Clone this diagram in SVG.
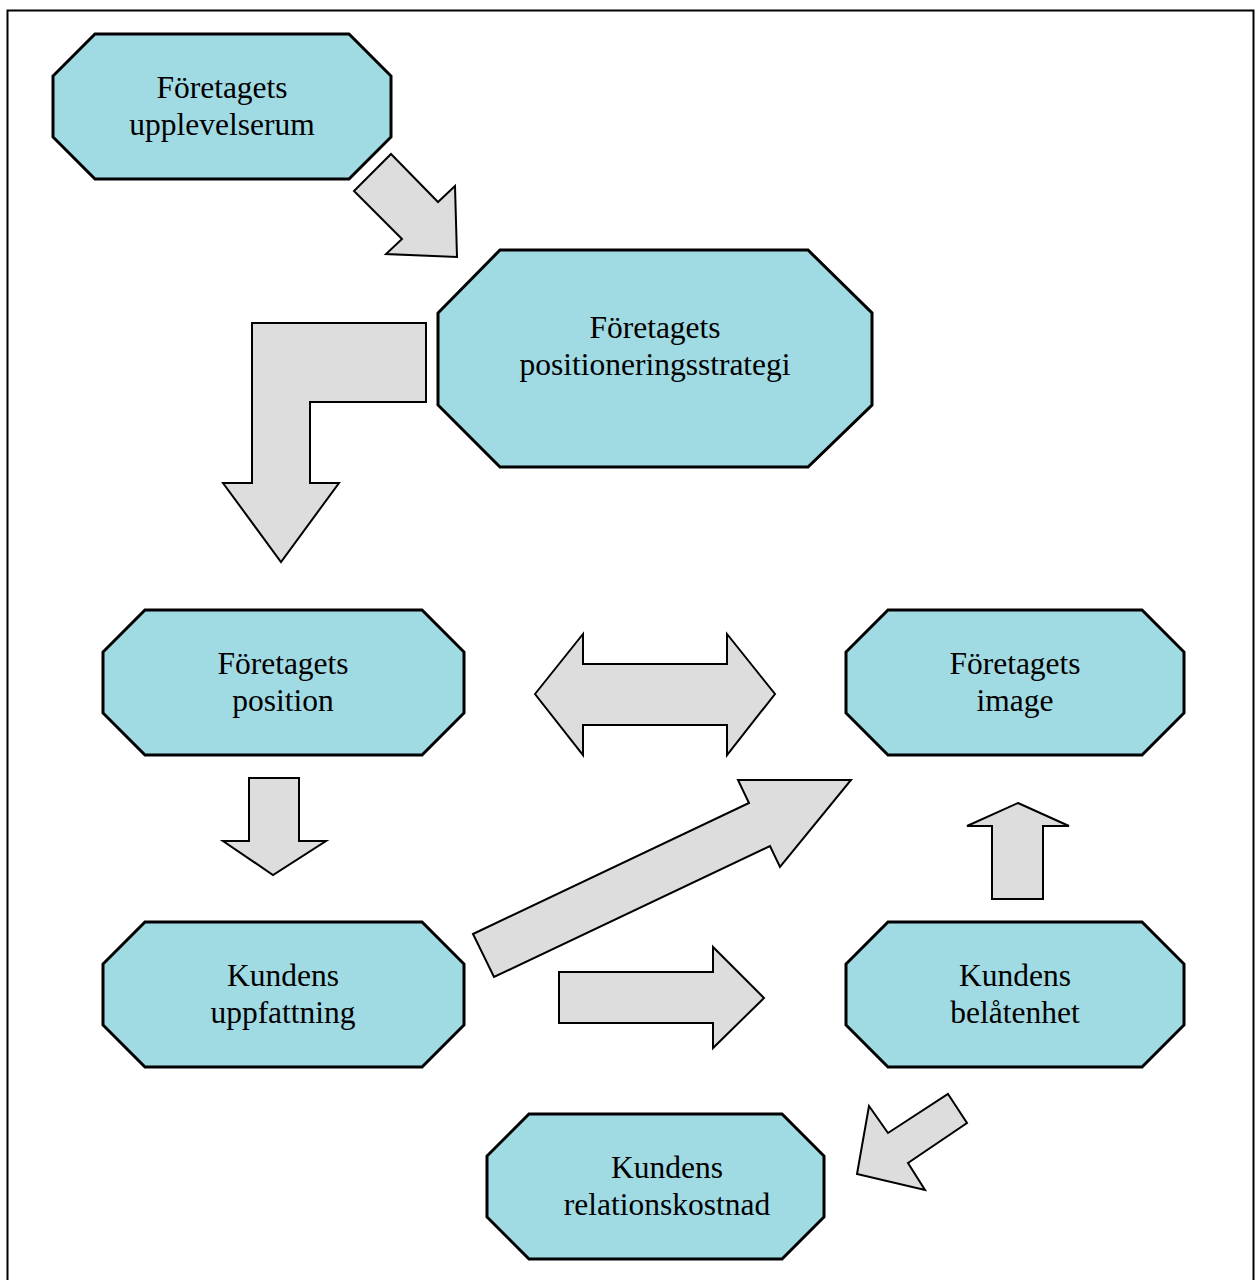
<svg xmlns="http://www.w3.org/2000/svg" width="1256" height="1280" viewBox="0 0 1256 1280">
<style>
.node{fill:#A0DAE3;stroke:#000;stroke-width:3;stroke-linejoin:miter}
.arr{fill:#DDDDDD;stroke:#000;stroke-width:2;stroke-linejoin:miter}
.t{font-family:"Liberation Serif","Times New Roman",serif;font-size:31.5px;fill:#000;text-anchor:middle}
</style>
<rect x="0" y="0" width="1256" height="1280" fill="#fff"/>
<rect x="7.5" y="10.5" width="1246" height="1290" fill="none" stroke="#000" stroke-width="2"/>
<g id="connectors">
<polygon class="arr" points="391,154 438,202 455,186 457,257 386,254 402,239 354,191"/>
<polygon class="arr" points="252,323 426,323 426,402 310,402 310,483 339,483 281,562 223,483 252,483"/>
<polygon class="arr" points="535,694 583,634 583,664 727,664 727,634 775,694 727,755 727,725 583,725 583,755"/>
<polygon class="arr" points="473,934 749,803 738,780 851,780 780,867 770,846 494,977"/>
<polygon class="arr" points="1018,803 1069,826 1043,826 1043,899 992,899 992,826 967,826"/>
<polygon class="arr" points="948,1094 967,1123 908,1163 925,1190 857,1174 869,1106 888,1133"/>
<polygon class="arr" points="249,778 299,778 299,841 326,841 273,875 223,841 249,841"/>
<polygon class="arr" points="559,972 713,972 713,947 764,998 713,1048 713,1023 559,1023"/>
</g>
<g id="n1">
<polygon class="node" points="95,34 349,34 391,76 391,137 349,179 95,179 53,137 53,76"/>
<text class="t" x="222" y="98">Företagets</text>
<text class="t" x="222" y="135">upplevelserum</text>
</g>
<g id="n2">
<polygon class="node" points="500,250 808,250 872,313 872,405 808,467 500,467 438,405 438,313"/>
<text class="t" x="655" y="338">Företagets</text>
<text class="t" x="655" y="375">positioneringsstrategi</text>
</g>
<g id="n3">
<polygon class="node" points="145,610 422,610 464,652 464,713 422,755 145,755 103,713 103,652"/>
<text class="t" x="283" y="674">Företagets</text>
<text class="t" x="283" y="711">position</text>
</g>
<g id="n4">
<polygon class="node" points="888,610 1142,610 1184,652 1184,713 1142,755 888,755 846,713 846,652"/>
<text class="t" x="1015" y="674">Företagets</text>
<text class="t" x="1015" y="711">image</text>
</g>
<g id="n5">
<polygon class="node" points="145,922 422,922 464,964 464,1025 422,1067 145,1067 103,1025 103,964"/>
<text class="t" x="283" y="986">Kundens</text>
<text class="t" x="283" y="1023">uppfattning</text>
</g>
<g id="n6">
<polygon class="node" points="888,922 1142,922 1184,964 1184,1025 1142,1067 888,1067 846,1025 846,964"/>
<text class="t" x="1015" y="986">Kundens</text>
<text class="t" x="1015" y="1023">belåtenhet</text>
</g>
<g id="n7">
<polygon class="node" points="529,1114 782,1114 824,1156 824,1217 782,1259 529,1259 487,1217 487,1156"/>
<text class="t" x="667" y="1178">Kundens</text>
<text class="t" x="667" y="1215">relationskostnad</text>
</g>
</svg>
